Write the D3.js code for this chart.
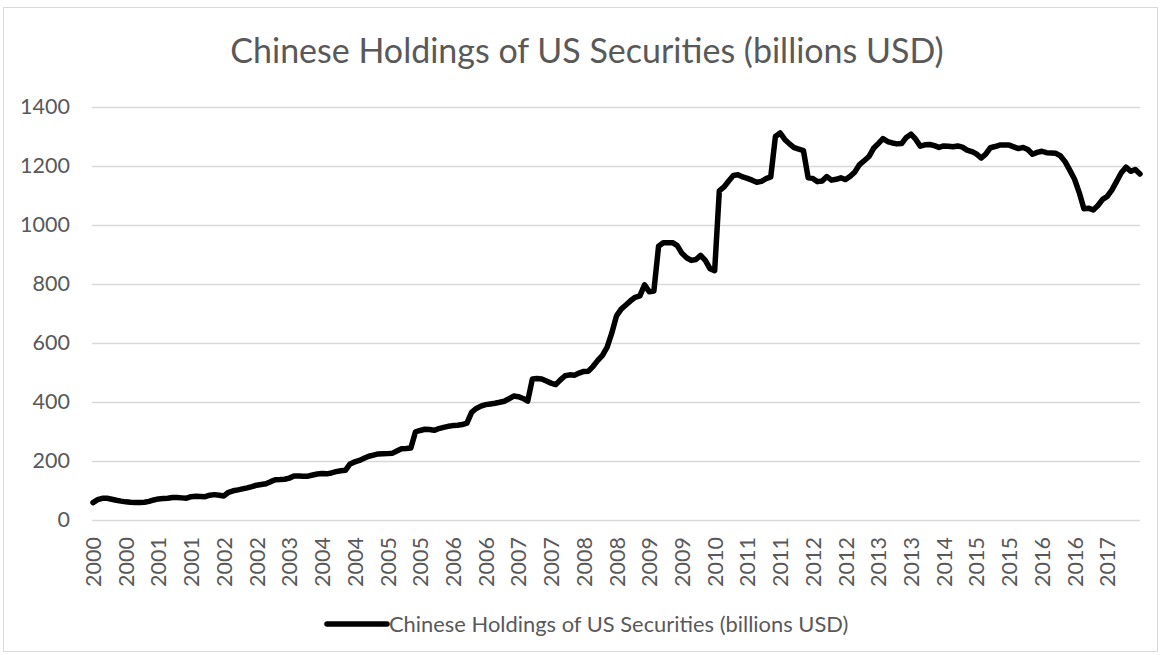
<!DOCTYPE html>
<html>
<head>
<meta charset="utf-8">
<script src="https://cdn.jsdelivr.net/npm/d3@7"></script>
<style>
  html, body { margin: 0; padding: 0; background: #ffffff; }
  svg { display: block; }
  text { font-family: Lato, "Open Sans", sans-serif; fill: #595959; }
</style>
</head>
<body>
<svg id="chart" width="1161" height="655"></svg>
<script>
// Series name shown in the title and the legend
const seriesName = "Chinese Holdings of US Securities (billions USD)";

// Category-axis labels (every 7th observation is labelled)
const yearLabels = ["2000","2000","2001","2001","2002","2002","2003","2004","2004","2005",
  "2005","2006","2006","2007","2007","2008","2008","2009","2009","2010",
  "2011","2011","2012","2012","2013","2013","2014","2015","2015","2016",
  "2016","2017"];
const labelStep = 7;

// Value-axis ticks
const yTicks = [0, 200, 400, 600, 800, 1000, 1200, 1400];

// Holdings, billions USD, one entry per observation
const holdings = [
  59, 69, 73.5, 73.5, 70.5, 67, 64, 61.5, 60, 59,
  59.5, 60, 63, 68, 71.5, 72.5, 73.5, 76, 76, 75,
  74, 79, 80.5, 80, 79, 84, 86, 84, 81.5, 94,
  99, 102, 105.5, 109, 113, 118, 120.5, 123, 130, 136.5,
  137, 138, 142, 149, 149, 148, 148.5, 152.5, 156, 157.5,
  156.5, 159.5, 164, 167, 168.5, 190, 197, 202, 209, 216,
  220, 224, 224.5, 225, 226, 234, 241.5, 242.5, 244, 299,
  303.5, 307.5, 306.5, 304, 310, 314, 317.5, 320, 321.5, 323.5,
  328.5, 365, 378, 386, 391, 393.5, 396, 399, 402.5, 411,
  420, 418, 412, 403, 478, 480, 478, 471, 464, 459,
  475, 489, 492, 491, 498, 503.5, 504.5, 521, 541, 558,
  586, 634, 692, 715, 729, 743, 755, 760, 797, 774,
  776, 928, 940, 940, 940, 930, 904, 889, 880, 883,
  897, 880, 852, 845, 1116, 1129, 1149, 1168, 1170, 1163,
  1158, 1152, 1145, 1148, 1157, 1163, 1300, 1312, 1290, 1275,
  1262, 1257, 1252, 1160, 1158, 1147, 1149, 1164, 1152, 1155,
  1160, 1154, 1165, 1180, 1205, 1218, 1232, 1260, 1276, 1293,
  1283, 1278, 1275, 1276, 1297, 1308, 1291, 1267, 1272, 1273,
  1269, 1263, 1268, 1267, 1265, 1268, 1264, 1254, 1249, 1241,
  1227, 1240, 1262, 1266, 1271, 1271, 1271, 1265, 1259, 1263,
  1256, 1240, 1246, 1250, 1245, 1244, 1243, 1234, 1214, 1185,
  1155, 1110, 1055, 1057, 1051, 1066, 1087, 1097, 1119, 1148,
  1177, 1196, 1182, 1188, 1173
];

const W = 1161, H = 655;
const plot = { left: 92, right: 1140, top: 107, bottom: 520 };

const svg = d3.select("#chart");

// chart-area frame
svg.append("rect")
  .attr("x", 3.5).attr("y", 7.5)
  .attr("width", W - 7).attr("height", H - 11)
  .attr("fill", "#ffffff")
  .attr("stroke", "#d9d9d9").attr("stroke-width", 1);

// title
svg.append("text")
  .attr("x", 587).attr("y", 63)
  .attr("text-anchor", "middle")
  .style("font-size", "34px")
  .text(seriesName);

const x = d3.scaleLinear()
  .domain([0, holdings.length - 1])
  .range([plot.left + 1, plot.right]);

const y = d3.scaleLinear()
  .domain([0, 1400])
  .range([plot.bottom, plot.top]);

// horizontal gridlines and value labels
const yAxis = svg.append("g")
  .attr("transform", `translate(${plot.left},0)`)
  .call(d3.axisLeft(y)
    .tickValues(yTicks)
    .tickSize(-(plot.right - plot.left))
    .tickPadding(22)
    .tickFormat(d3.format("d")));
yAxis.select(".domain").remove();
yAxis.selectAll(".tick line")
  .attr("stroke", "#d9d9d9").attr("stroke-width", 1.5);
yAxis.selectAll(".tick text")
  .style("font-size", "21.5px")
  .attr("fill", "#595959");

// category labels, rotated
const xTickIdx = yearLabels.map((_, i) => i * labelStep);
const xAxis = svg.append("g")
  .attr("transform", `translate(0,${plot.bottom})`)
  .call(d3.axisBottom(x)
    .tickValues(xTickIdx)
    .tickSize(0)
    .tickFormat((d, i) => yearLabels[i]));
xAxis.select(".domain").remove();
xAxis.selectAll(".tick text")
  .style("font-size", "21.5px")
  .attr("fill", "#595959")
  .attr("text-anchor", "end")
  .attr("transform", "rotate(-90)")
  .attr("x", -17)
  .attr("y", 0)
  .attr("dy", "0.35em");

// the series line
const line = d3.line()
  .x((d, i) => x(i))
  .y(d => y(d));

svg.append("path")
  .datum(holdings)
  .attr("fill", "none")
  .attr("stroke", "#000000")
  .attr("stroke-width", 5.5)
  .attr("stroke-linejoin", "round")
  .attr("stroke-linecap", "round")
  .attr("d", line);

// legend
const legend = svg.append("g").attr("transform", "translate(327,624)");
legend.append("line")
  .attr("x1", 0).attr("x2", 60)
  .attr("y1", 0).attr("y2", 0)
  .attr("stroke", "#000000")
  .attr("stroke-width", 5.5)
  .attr("stroke-linecap", "round");
legend.append("text")
  .attr("x", 62).attr("y", 0)
  .attr("dy", "0.35em")
  .style("font-size", "21.9px")
  .text(seriesName);
</script>
</body>
</html>
